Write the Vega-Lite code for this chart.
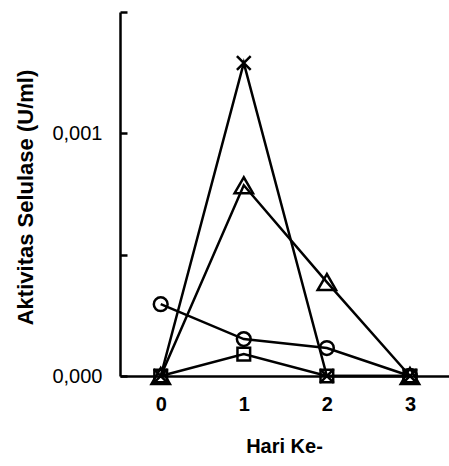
{
  "$schema": "https://vega.github.io/schema/vega-lite/v6.json",
  "width": 329,
  "height": 364,
  "autosize": {"type": "none"},
  "padding": {"left": 120, "top": 12, "right": 0, "bottom": 90},
  "background": "white",
  "config": {
    "view": {"stroke": null},
    "font": "Liberation Sans"
  },
  "data": {
    "values": [
      {"hari": 0, "aktivitas": 0.000296, "seri": "O"},
      {"hari": 1, "aktivitas": 0.000152, "seri": "O"},
      {"hari": 2, "aktivitas": 0.000115, "seri": "O"},
      {"hari": 3, "aktivitas": 0.0, "seri": "O"},
      {"hari": 0, "aktivitas": 0.0, "seri": "T"},
      {"hari": 1, "aktivitas": 0.000786, "seri": "T"},
      {"hari": 2, "aktivitas": 0.000387, "seri": "T"},
      {"hari": 3, "aktivitas": 0.0, "seri": "T"},
      {"hari": 0, "aktivitas": 0.0, "seri": "X"},
      {"hari": 1, "aktivitas": 0.00129, "seri": "X"},
      {"hari": 2, "aktivitas": 0.0, "seri": "X"},
      {"hari": 3, "aktivitas": 0.0, "seri": "X"},
      {"hari": 0, "aktivitas": 0.0, "seri": "S"},
      {"hari": 1, "aktivitas": 0.00009, "seri": "S"},
      {"hari": 2, "aktivitas": 0.0, "seri": "S"},
      {"hari": 3, "aktivitas": 0.0, "seri": "S"}
    ]
  },
  "encoding": {
    "x": {
      "field": "hari", "type": "quantitative",
      "scale": {"domain": [-0.49, 3.47], "nice": false, "zero": false},
      "axis": {
        "values": [0, 1, 2, 3], "ticks": false, "grid": false,
        "domainColor": "black", "domainWidth": 2.5,
        "labelFont": "Liberation Sans", "labelFontWeight": "bold", "labelFontSize": 20,
        "labelColor": "black", "labelPadding": 18,
        "title": "Hari Ke-", "titleFont": "Liberation Sans", "titleFontWeight": "bold", "titleFontSize": 20,
        "titleColor": "black", "titleX": 164, "titleY": 76, "titleBaseline": "alphabetic", "titleAlign": "center"
      }
    },
    "y": {
      "field": "aktivitas", "type": "quantitative",
      "scale": {"domain": [0, 0.0015], "nice": false},
      "axis": {
        "values": [0, 0.0005, 0.001, 0.0015], "grid": false,
        "domainColor": "black", "domainWidth": 2.5,
        "tickColor": "black", "tickWidth": 2.5, "tickSize": -7,
        "labelExpr": "datum.value == 0 || datum.value == 0.001 ? replace(format(datum.value, '.3f'), '.', ',') : ''",
        "labelFont": "Liberation Sans", "labelFontSize": 20, "labelColor": "black", "labelPadding": 25,
        "title": "Aktivitas Selulase (U/ml)", "titleFont": "Liberation Sans", "titleFontWeight": "bold", "titleFontSize": 22,
        "titleColor": "black", "titleAngle": -90, "titleX": -95, "titleY": 185, "titleBaseline": "middle", "titleAlign": "center"
      }
    }
  },
  "layer": [
    {
      "mark": {"type": "line", "color": "black", "strokeWidth": 2.5},
      "encoding": {"detail": {"field": "seri"}}
    },
    {
      "transform": [{"filter": "datum.seri == 'S'"}],
      "mark": {"type": "point", "shape": "square", "size": 160, "filled": false, "color": "black", "strokeWidth": 2.5, "opacity": 1}
    },
    {
      "transform": [{"filter": "datum.seri == 'O'"}],
      "mark": {"type": "point", "shape": "circle", "size": 190, "filled": false, "color": "black", "strokeWidth": 2.5, "opacity": 1}
    },
    {
      "transform": [{"filter": "datum.seri == 'T'"}],
      "mark": {"type": "point", "shape": "triangle-up", "size": 340, "filled": false, "color": "black", "strokeWidth": 2.5, "opacity": 1}
    },
    {
      "transform": [{"filter": "datum.seri == 'X'"}],
      "mark": {"type": "point", "shape": "M-1,-1L1,1M-1,1L1,-1", "size": 190, "filled": false, "color": "black", "strokeWidth": 2.5, "opacity": 1}
    }
  ]
}
